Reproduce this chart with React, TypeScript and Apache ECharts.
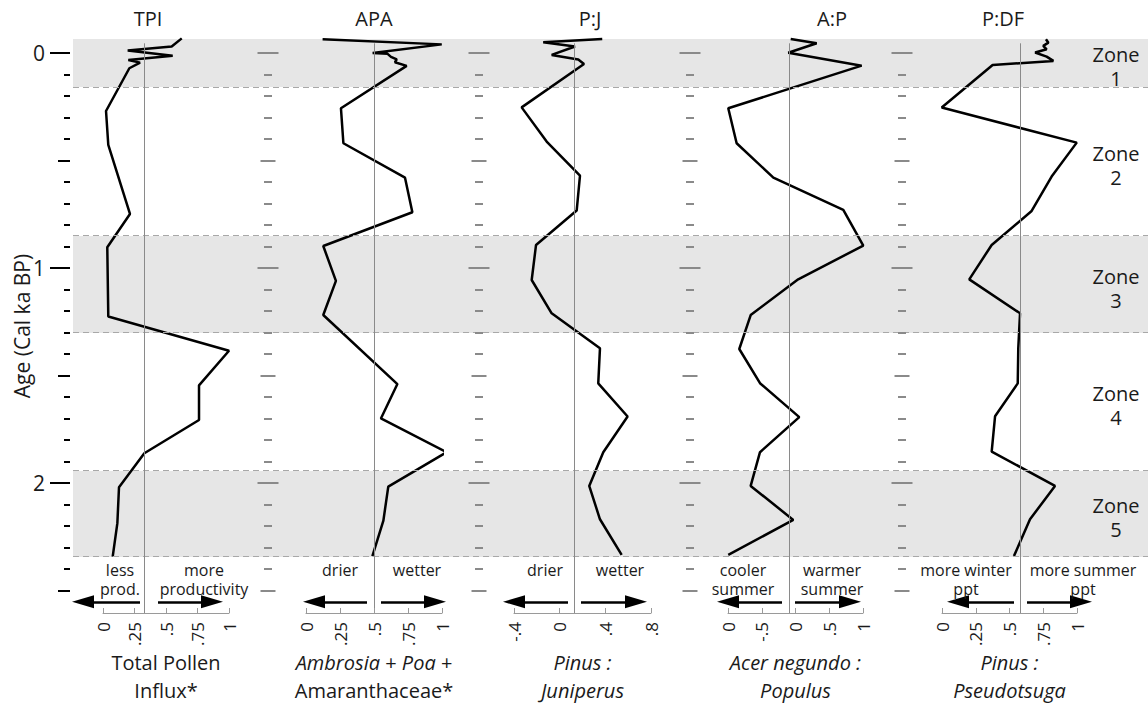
import React, { useEffect, useRef } from "react";
import * as echarts from "echarts";

// ---------------- DATA ----------------
const panelTitles = ["TPI", "APA", "P:J", "A:P", "P:DF"];
const axisNames = [
  "Total Pollen\nInflux*",
  "{i|Ambrosia} + {i|Poa} +\nAmaranthaceae*",
  "Pinus :\nJuniperus",
  "Acer negundo :\nPopulus",
  "Pinus :\nPseudotsuga",
];
const axisNameItalic = [false, false, true, true, true];

const tpiTicks = ["0", ".25", ".5", ".75", "1"];
const apaTicks = ["0", ".25", ".5", ".75", "1"];
const pjTicks = ["-.4", "0", ".4", ".8"];
const apTicks = ["0", "-.5", "0", ".5", "1"];
const pdfTicks = ["0", ".25", ".5", ".75", "1"];

const ageTicksMajor = [0, 1, 2];
const ageLabels = ["0", "1", "2"];
const ageTicksHalf = [0.5, 1.5, 2.5];
const ageTicksMinor = [0.1, 0.2, 0.3, 0.4, 0.6, 0.7, 0.8, 0.9, 1.1, 1.2, 1.3, 1.4, 1.6, 1.7, 1.8, 1.9, 2.1, 2.2, 2.3, 2.4];

// Total Pollen Influx
const tpiAge = [-0.068, -0.03, -0.011, 0.0125, 0.033, 0.045, 0.071, 0.27, 0.428, 0.749, 0.904, 1.226, 1.385, 1.546, 1.707, 1.862, 2.02, 2.187, 2.343];
const tpiVal = [0.625, 0.545, 0.196, 0.553, 0.201, 0.294, 0.209, 0.024, 0.042, 0.214, 0.034, 0.042, 1.0, 0.762, 0.762, 0.328, 0.127, 0.114, 0.077];

// Ambrosia + Poa + Amaranthaceae
const apaAge = [-0.064, -0.04, 0.0, 0.004, 0.018, 0.03, 0.043, 0.06, 0.257, 0.42, 0.58, 0.741, 0.898, 1.06, 1.219, 1.54, 1.7, 1.857, 2.017, 2.175, 2.34];
const apaVal = [0.122, 0.998, 0.49, 0.6, 0.625, 0.667, 0.654, 0.74, 0.257, 0.275, 0.728, 0.782, 0.127, 0.22, 0.127, 0.672, 0.551, 1.034, 0.605, 0.569, 0.488];

// Pinus : Juniperus
const pjAge = [-0.065, -0.05, -0.03, 0.009, 0.03, 0.051, 0.253, 0.412, 0.571, 0.733, 0.893, 1.056, 1.211, 1.374, 1.537, 1.691, 1.857, 2.014, 2.169, 2.335];
const pjVal = [0.373, -0.144, 0.134, -0.07, 0.163, 0.213, -0.333, -0.114, 0.178, 0.149, -0.207, -0.245, -0.07, 0.353, 0.338, 0.595, 0.382, 0.259, 0.353, 0.543];

// Acer negundo : Populus
const apAge = [-0.065, -0.045, -0.001, 0.059, 0.257, 0.42, 0.58, 0.73, 0.896, 1.053, 1.219, 1.377, 1.536, 1.694, 1.857, 2.014, 2.172, 2.335];
const apVal = [-0.071, 0.314, -0.107, 0.98, -0.996, -0.872, -0.328, 0.708, 1.004, 0.04, -0.664, -0.833, -0.526, 0.056, -0.526, -0.664, -0.033, -0.996];

// Pinus : Pseudotsuga
const pdfAge = [-0.064, -0.048, -0.033, -0.017, -0.002, 0.017, 0.037, 0.056, 0.254, 0.417, 0.575, 0.735, 0.893, 1.053, 1.211, 1.374, 1.537, 1.69, 1.854, 2.014, 2.169, 2.34];
const pdfVal = [0.77, 0.788, 0.75, 0.775, 0.69, 0.775, 0.825, 0.375, -0.002, 0.998, 0.812, 0.664, 0.368, 0.202, 0.578, 0.565, 0.561, 0.393, 0.368, 0.837, 0.652, 0.533];

const refValues = [0.325, 0.5, 0.13, -0.1, 0.578];

const zoneNames = ["1", "2", "3", "4", "5"];
const zoneTop = [-0.065, 0.158, 0.851, 1.302, 1.944];
const zoneBottom = [0.158, 0.851, 1.302, 1.944, 2.344];
const zoneShaded = [true, false, true, false, true];

const leftNotes = ["less\nprod.", "drier", "drier", "cooler\nsummer", "more winter\nppt"];
const rightNotes = ["more\nproductivity", "wetter", "wetter", "warmer\nsummer", "more summer\nppt"];

// ---------------- LAYOUT ----------------
const FONT = "'Open Sans', 'Noto Sans', sans-serif";
const TEXT = "#1a1a1a";
const GRAY = "#8a8a8a";
const W = 1148;
const Y_MIN = -0.065;
const Y_MAX = 2.605;
const GRID_TOP = 39;
const GRID_H = 574;
const BG_LEFT = 73;
const REF_TOP = -0.045;
const ARROW_AGE = 2.553;

const PANELS = [
  { left: 103, width: 126, min: 0, max: 1, interval: 0.25 },
  { left: 306, width: 136, min: 0, max: 1, interval: 0.25 },
  { left: 514, width: 137, min: -0.4, max: 0.8, interval: 0.4 },
  { left: 728, width: 135, min: -1, max: 1, interval: 0.5 },
  { left: 942, width: 135, min: 0, max: 1, interval: 0.25 },
];
const tickLabels = [tpiTicks, apaTicks, pjTicks, apTicks, pdfTicks];
const panelData: [number[], number[]][] = [
  [tpiAge, tpiVal],
  [apaAge, apaVal],
  [pjAge, pjVal],
  [apAge, apVal],
  [pdfAge, pdfVal],
];
const SEP_X = [268, 479, 690, 902];
const TITLE_X = [148, 374, 590, 832, 1003];
const NOTE_LEFT_X = [120, 340, 545, 743, 966];
const NOTE_RIGHT_X = [204, 417, 620, 832, 1083];
// arrow shafts in page pixels: [start, end] (the head is centred on end)
const ARROW_LEFT_PX = [[140, 83], [367, 314], [568, 514], [782, 728], [1014, 958]];
const ARROW_RIGHT_PX = [[158, 212], [381, 435], [581, 636], [795, 850], [1027, 1081]];
const ZONE_LABEL_X = 1116;

const bgX = (px: number) => (px - BG_LEFT) / (W - BG_LEFT);
const ageToPx = (a: number) => GRID_TOP + ((a - Y_MIN) / (Y_MAX - Y_MIN)) * GRID_H;

function buildOption(): any {
  const baseY = { type: "value", min: Y_MIN, max: Y_MAX, inverse: true };

  const grid = [
    { left: BG_LEFT, right: 0, top: GRID_TOP, height: GRID_H, outerBoundsMode: "none", containLabel: false },
    ...PANELS.map((p) => ({ left: p.left, width: p.width, top: GRID_TOP, height: GRID_H, outerBoundsMode: "none", containLabel: false })),
  ];

  const xAxis: any[] = [
    { gridIndex: 0, type: "value", min: 0, max: 1, show: false },
    ...PANELS.map((p, i) => ({
      gridIndex: i + 1,
      type: "value",
      position: "bottom",
      min: p.min,
      max: p.max,
      interval: p.interval,
      z: 10,
      axisLine: { show: true, onZero: false, lineStyle: { color: "#9a9a9a", width: 1 } },
      axisTick: { show: true, inside: true, length: 5, lineStyle: { color: "#9a9a9a", width: 1 } },
      splitLine: { show: false },
      axisLabel: {
        show: true,
        rotate: 90,
        margin: 9,
        fontSize: 17,
        fontFamily: FONT,
        color: TEXT,
        formatter: (_v: number, idx: number) => tickLabels[i][idx] ?? "",
      },
      name: axisNames[i],
      nameLocation: "middle",
      nameGap: 35,
      nameMoveOverlap: false,
      nameTextStyle: {
        fontSize: 20,
        lineHeight: 28,
        fontFamily: FONT,
        color: TEXT,
        fontStyle: axisNameItalic[i] ? "italic" : "normal",
        rich: {
          i: { fontSize: 20, lineHeight: 28, fontFamily: FONT, color: TEXT, fontStyle: "italic" },
        },
      },
    })),
  ];

  const yAxis: any[] = [{ gridIndex: 0, ...baseY, show: false }];
  PANELS.forEach((_, i) => yAxis.push({ gridIndex: i + 1, ...baseY, show: false }));

  const tickAxis = (gridIndex: number, offset: number, values: number[], length: number, inside: boolean, color: string, extra: any = {}) => ({
    gridIndex,
    ...baseY,
    position: "left",
    offset,
    z: 10,
    axisLine: { show: false, onZero: false },
    splitLine: { show: false },
    axisTick: { show: true, inside, length, customValues: values, lineStyle: { color, width: 2 } },
    axisLabel: { show: false },
    ...extra,
  });

  // left age axis (black)
  yAxis.push(
    tickAxis(1, 33, ageTicksMajor, 20, false, "#000", {
      axisLabel: {
        show: true,
        customValues: ageTicksMajor,
        margin: 25,
        fontSize: 21,
        fontFamily: FONT,
        color: TEXT,
        formatter: (v: number) => ageLabels[ageTicksMajor.indexOf(v)] ?? "",
      },
      name: "Age (Cal ka BP)",
      nameLocation: "middle",
      nameGap: 38,
      nameRotate: 90,
      nameMoveOverlap: false,
      nameTextStyle: { fontSize: 21, fontFamily: FONT, color: TEXT },
    })
  );
  yAxis.push(tickAxis(1, 33, ageTicksHalf, 12, false, "#000"));
  yAxis.push(tickAxis(1, 33, ageTicksMinor, 6, false, "#000"));

  // grey centred separator ticks
  SEP_X.forEach((sx, k) => {
    const gi = k + 2;
    const off = PANELS[k + 1].left - sx;
    const specs: [number[], number][] = [
      [ageTicksMajor, 10.5],
      [ageTicksHalf, 7.5],
      [ageTicksMinor, 4],
    ];
    specs.forEach(([vals, len]) => {
      yAxis.push(tickAxis(gi, off, vals, len, false, GRAY));
      yAxis.push(tickAxis(gi, off, vals, len, true, GRAY));
    });
  });

  const shadedIdx = zoneShaded.map((s, k) => (s ? k : -1)).filter((k) => k >= 0);
  const edges: number[] = [];
  shadedIdx.forEach((k) => {
    edges.push(zoneTop[k], zoneBottom[k]);
  });

  const arrowItems: any[] = [];
  [...ARROW_LEFT_PX, ...ARROW_RIGHT_PX].forEach(([s, e]) => {
    arrowItems.push([
      { coord: [bgX(s), ARROW_AGE] },
      { coord: [bgX(e), ARROW_AGE], symbol: "triangle", symbolSize: [13, 22] },
    ]);
  });

  const series: any[] = [
    {
      type: "line",
      xAxisIndex: 0,
      yAxisIndex: 0,
      z: -1,
      silent: true,
      data: [],
      markArea: {
        silent: true,
        itemStyle: { color: "#e6e6e6" },
        label: { show: false },
        data: shadedIdx.map((k) => [{ yAxis: zoneTop[k] }, { yAxis: zoneBottom[k] }]),
      },
      markLine: {
        silent: true,
        symbol: ["none", "none"],
        label: { show: false },
        lineStyle: { color: "#a8a8a8", width: 1, type: [6, 4] },
        data: edges.map((v) => ({ yAxis: v })),
      },
    },
    {
      type: "line",
      xAxisIndex: 0,
      yAxisIndex: 0,
      z: 4,
      silent: true,
      clip: false,
      data: [],
      markLine: {
        silent: true,
        symbol: ["none", "none"],
        label: { show: false },
        lineStyle: { color: "#000", width: 2.5, type: "solid" },
        data: arrowItems,
      },
    },
  ];

  panelData.forEach(([ages, vals], i) => {
    series.push({
      type: "line",
      xAxisIndex: i + 1,
      yAxisIndex: i + 1,
      z: 2,
      silent: true,
      clip: false,
      data: [],
      markLine: {
        silent: true,
        symbol: ["none", "none"],
        label: { show: false },
        lineStyle: { color: GRAY, width: 1, type: "solid" },
        data: [[{ coord: [refValues[i], REF_TOP] }, { coord: [refValues[i], Y_MAX] }]],
      },
    });
    series.push({
      type: "line",
      xAxisIndex: i + 1,
      yAxisIndex: i + 1,
      z: 3,
      silent: true,
      clip: false,
      symbol: "none",
      lineStyle: { color: "#000", width: 2.5 },
      data: ages.map((a, k) => [vals[k], a]),
    });
  });

  const noteStyle = { fontSize: 16, lineHeight: 19, fontFamily: FONT, fill: TEXT, align: "center", verticalAlign: "top" };
  const graphic: any[] = [
    ...panelTitles.map((t, i) => ({
      type: "text",
      x: TITLE_X[i],
      y: 18,
      z: 100,
      silent: true,
      style: { text: t, fontSize: 20, fontFamily: FONT, fill: TEXT, align: "center", verticalAlign: "middle" },
    })),
    ...leftNotes.map((t, i) => ({ type: "text", x: NOTE_LEFT_X[i], y: 560, z: 100, silent: true, style: { ...noteStyle, text: t } })),
    ...rightNotes.map((t, i) => ({ type: "text", x: NOTE_RIGHT_X[i], y: 560, z: 100, silent: true, style: { ...noteStyle, text: t } })),
    ...zoneNames.map((n, k) => ({
      type: "text",
      x: ZONE_LABEL_X,
      y: ageToPx((zoneTop[k] + zoneBottom[k]) / 2) + 4,
      z: 100,
      silent: true,
      style: { text: `Zone\n${n}`, fontSize: 20, lineHeight: 24, fontFamily: FONT, fill: TEXT, align: "center", verticalAlign: "middle" },
    })),
  ];

  return {
    animation: false,
    backgroundColor: "#ffffff",
    textStyle: { fontFamily: FONT },
    grid,
    xAxis,
    yAxis,
    series,
    graphic,
  };
}

export default function App() {
  const ref = useRef<HTMLDivElement>(null);
  useEffect(() => {
    if (!ref.current) return;
    const chart = echarts.init(ref.current, undefined, { renderer: "svg" });
    chart.setOption(buildOption());
    return () => chart.dispose();
  }, []);
  return (
    <div
      ref={ref}
      style={{ position: "fixed", left: 0, top: 0, width: 1148, height: 708, background: "#fff" }}
    />
  );
}
